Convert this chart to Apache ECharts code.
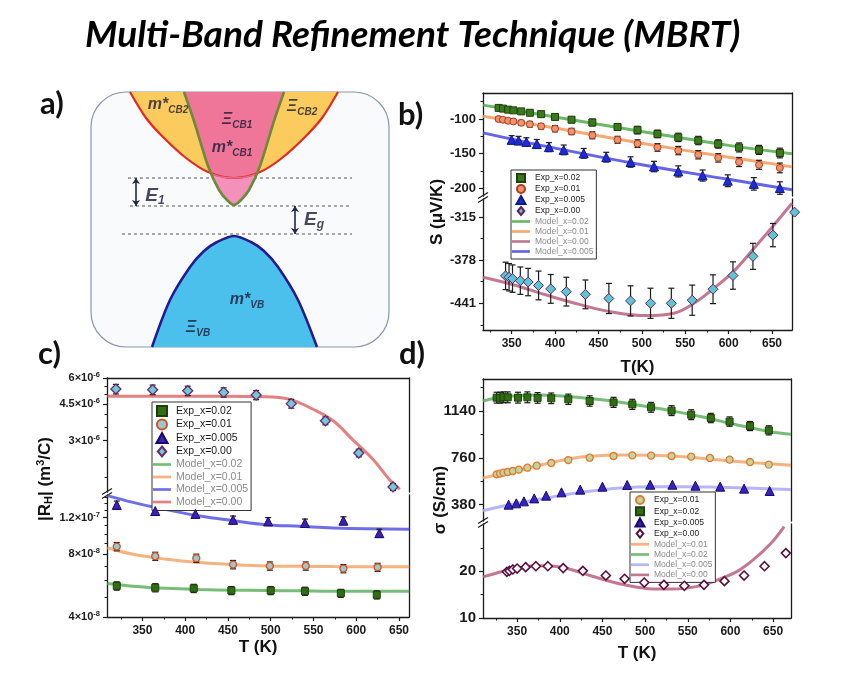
<!DOCTYPE html>
<html>
<head>
<meta charset="utf-8">
<script src="https://cdn.jsdelivr.net/npm/echarts@6/dist/echarts.min.js"></script>
<style>
html, body { margin: 0; padding: 0; background: #fff; }
#chart { width: 856px; height: 676px; }
</style>
</head>
<body>
<div id="chart"></div>
<script>
// ---------- panel a : band sketch (energy vs k, arbitrary units) ----------
var cb1X = [-50, -40, -26, -15, -7, 0, 7, 15, 26, 40, 50];
var cb1Y = [255, 226, 181, 157, 147, 142, 147, 157, 181, 226, 255];
var cb1InX = [-23, -15, -7, 0, 7, 15, 23];
var cb1InY = [174, 157, 147, 142, 147, 157, 174];
var cb2X = [-104, -88, -71, -48, -26, 0, 26, 48, 71, 88, 104];
var cb2Y = [255, 229, 210, 189, 175, 169, 175, 189, 210, 229, 255];
var cb2InX = [-23, -12, 0, 12, 23];
var cb2InY = [173, 170, 169, 170, 173];
var vbX = [-82, -64, -44, -30, -17, 0, 17, 30, 44, 64, 83];
var vbY = [0, 47, 80, 96, 105, 111, 105, 96, 80, 47, 0];
var levelY = [169, 141, 113];
var levelX0 = [-106, -104, -112];
var levelX1 = [118, 118, 118];

// ---------- panel b : Seebeck S (uV/K) ----------
var bT = [335, 340, 346, 352, 361, 371, 384, 400, 419, 443, 472, 495, 518, 542, 565, 588, 612, 635, 659];
var bS02 = [-84, -85, -86.5, -87.5, -89, -91, -93, -97, -101, -105, -111.5, -116, -121.5, -126.5, -131, -136, -141, -144.5, -149];
var bE02 = [3, 3, 3, 3, 3.5, 4, 4, 4.5, 4.5, 5, 5, 5.5, 5.5, 6, 6, 6, 6.5, 6.5, 7];
var bS01 = [-100, -101, -102.5, -103.5, -105.5, -107.5, -110.5, -114, -118, -123.5, -130, -135.5, -141, -145.5, -151.5, -156, -162, -166, -170.5];
var bE01 = [3, 3, 3, 3, 3.5, 4, 4, 4.5, 4.5, 5, 5, 5.5, 5.5, 6, 6, 6, 6.5, 6.5, 7];
var bT005 = [350, 358, 367, 379, 393, 410, 433, 459, 487, 514, 542, 570, 599, 629, 659];
var bS005 = [-130, -131, -133, -136, -140.5, -144.5, -149.5, -155, -162, -168.5, -175.5, -181.5, -189, -193.5, -199.5];
var bE005 = [6, 6, 6, 6.5, 6.5, 7, 7, 7, 7.5, 7.5, 8, 8, 8.5, 9, 9];
var bT000 = [343, 347, 351, 360, 369, 381, 395, 413, 435, 462, 487, 510, 534, 558, 582, 605, 628, 651, 676];
var bS000 = [-401, -403, -405, -408, -410, -415, -420, -424, -428, -434, -437.5, -441, -441, -436.5, -420.5, -400.5, -372.5, -341.5, -308];
var bE000 = [20, 20, 20, 20, 20, 21, 21, 21, 21, 22, 22, 22, 22, 22, 21, 20, 19, 17, 0];
var bMT = [317, 400, 500, 600, 673];
var bM02 = [-80, -97, -118, -138, -150];
var bM01 = [-96, -113, -135, -155, -169];
var bM005 = [-120, -142, -166, -187, -202];
var bM000T = [317, 352, 390, 429, 467, 506, 537, 560, 583, 606, 629, 652, 673];
var bM000 = [-403, -414, -429, -443, -454, -459, -455.5, -441, -419, -394, -361, -327, -295];

// ---------- panel c : Hall coefficient |RH| (m3/C) ----------
var cT000 = [319, 362, 403, 445, 483, 524, 564, 603, 643];
var cR000 = [5.31e-6, 5.27e-6, 5.21e-6, 5.12e-6, 4.97e-6, 4.52e-6, 3.74e-6, 2.62e-6, 1.80e-6];
var cE000 = [2.8e-7, 2.8e-7, 2.7e-7, 2.6e-7, 2.5e-7, 2.2e-7, 1.6e-7, 1.1e-7, 0.7e-7];
var cT005 = [320, 365, 412, 456, 497, 540, 585, 627];
var cR005 = [1.38e-7, 1.29e-7, 1.25e-7, 1.17e-7, 1.15e-7, 1.13e-7, 1.16e-7, 1.01e-7];
var cE005 = [6e-9, 5.5e-9, 5.5e-9, 5e-9, 5e-9, 5e-9, 5e-9, 4.5e-9];
var cT01 = [320, 365, 413, 456, 499, 541, 585, 625];
var cR01 = [8.71e-8, 7.83e-8, 7.66e-8, 7.14e-8, 7.03e-8, 7.03e-8, 6.83e-8, 6.93e-8];
var cE01 = [4e-9, 3.5e-9, 3.5e-9, 3.3e-9, 3.2e-9, 3.2e-9, 3.1e-9, 3.1e-9];
var cT02 = [320, 365, 410, 454, 500, 540, 582, 624];
var cR02 = [5.64e-8, 5.53e-8, 5.49e-8, 5.36e-8, 5.36e-8, 5.32e-8, 5.20e-8, 5.11e-8];
var cE02 = [2.6e-9, 2.5e-9, 2.5e-9, 2.4e-9, 2.4e-9, 2.4e-9, 2.3e-9, 2.3e-9];
var cM000T = [309, 400, 495, 522, 549, 573, 596, 620, 639, 651];
var cM000 = [4.9e-6, 4.9e-6, 4.88e-6, 4.74e-6, 4.26e-6, 3.74e-6, 3.03e-6, 2.43e-6, 1.95e-6, 1.75e-6];
var cMT = [309, 339, 378, 417, 456, 495, 534, 573, 662];
var cM005 = [1.53e-7, 1.42e-7, 1.31e-7, 1.22e-7, 1.16e-7, 1.11e-7, 1.09e-7, 1.07e-7, 1.055e-7];
var cM01 = [8.6e-8, 8.0e-8, 7.57e-8, 7.3e-8, 7.14e-8, 7.03e-8, 7.0e-8, 6.98e-8, 6.96e-8];
var cM02 = [5.79e-8, 5.62e-8, 5.49e-8, 5.42e-8, 5.38e-8, 5.36e-8, 5.34e-8, 5.32e-8, 5.32e-8];

// ---------- panel d : conductivity sigma (S/cm) ----------
var dT01 = [326, 330, 334, 339, 345, 352, 362, 373, 390, 410, 435, 463, 485, 507, 531, 554, 576, 599, 623, 645];
var dS01 = [626, 632, 640, 645, 653, 664, 680, 696, 718, 742, 761, 775, 780, 778, 775, 770, 759, 745, 726, 705];
var dE01 = [14, 14, 14, 14, 14, 14, 14, 14, 14, 14, 14, 14, 14, 14, 14, 14, 14, 14, 14, 14];
var dT02 = [326, 330, 334, 339, 351, 362, 374, 390, 410, 435, 463, 485, 507, 531, 554, 577, 599, 623, 645];
var dS02 = [1248, 1248, 1251, 1251, 1248, 1251, 1246, 1243, 1235, 1221, 1210, 1194, 1170, 1143, 1110, 1083, 1054, 1018, 983];
var dE02 = [44, 44, 44, 44, 44, 44, 43, 43, 42, 42, 41, 41, 40, 40, 40, 38, 38, 37, 37];
var dT005 = [340, 349, 358, 370, 384, 402, 424, 450, 479, 506, 532, 559, 588, 616, 646];
var dS005 = [380, 391, 407, 431, 453, 480, 502, 526, 540, 542, 542, 534, 526, 510, 491];
var dT000 = [338, 341, 345, 350, 360, 372, 386, 404, 427, 454, 476, 499, 522, 546, 569, 593, 616, 640, 665];
var dS000 = [19.9, 20.1, 20.4, 20.6, 20.9, 21.1, 21.1, 20.7, 20.1, 19.1, 18.4, 17.6, 17.1, 16.9, 17.1, 17.9, 19.1, 21.1, 23.9];
var dM02T = [310, 334, 373, 413, 452, 491, 530, 569, 608, 647, 671];
var dM02 = [1221, 1256, 1270, 1256, 1229, 1189, 1143, 1089, 1026, 972, 951];
var dM01T = [310, 334, 354, 373, 393, 412, 432, 471, 510, 549, 588, 627, 671];
var dM01 = [596, 634, 661, 694, 726, 753, 770, 783, 780, 767, 742, 721, 699];
var dM005T = [310, 334, 354, 393, 432, 471, 510, 549, 588, 627, 671];
var dM005 = [331, 369, 396, 445, 486, 515, 526, 526, 521, 513, 504];
var dM000T = [310, 334, 354, 373, 393, 413, 432, 452, 471, 491, 510, 530, 549, 569, 588, 608, 627, 647, 663];
var dM000 = [18.8, 20, 20.8, 21.2, 21.1, 20.4, 19.3, 18.2, 17.3, 16.6, 16.2, 16.2, 16.4, 17.1, 18.4, 20, 22.5, 25.9, 29.6];

// tick labels
var tTicks = [350, 400, 450, 500, 550, 600, 650];
var tMinor = [325, 375, 425, 475, 525, 575, 625, 675];
var bUpTicks = [-200, -150, -100];
var bUpMinor = [-175, -125, -75];
var bLowTicks = [-441, -378, -315];
var bLowMinor = [-472.5, -409.5, -346.5];
var cUpTicks = [3e-6, 4.5e-6, 6e-6];
var cUpMinor = [2e-6, 2.5e-6, 3.5e-6, 4e-6, 5e-6, 5.5e-6];
var cLowTicks = [4e-8, 8e-8, 1.2e-7];
var cLowMinor = [5e-8, 6e-8, 7e-8, 9e-8, 1e-7, 1.1e-7, 1.3e-7, 1.4e-7, 1.5e-7];
var dUpTicks = [380, 760, 1140];
var dUpMinor = [570, 950, 1330];
var dLowTicks = [10, 20];
var dLowMinor = [15, 25];

var FONT = 'Liberation Sans';
var TFONT = 'Lato';
var AX = '#1a1a1a';

// legend icon shapes
var ICON = {
	rect: 'path://M0,0L10,0L10,10L0,10Z',
	circle: 'path://M0,5A5,5,0,1,0,10,5A5,5,0,1,0,0,5Z',
	triangle: 'path://M5,0L10,9L0,9Z',
	diamond: 'path://M5,0L10,6L5,12L0,6Z',
	line: 'path://M0,0L20,0L20,3L0,3Z'
};

var xAxes = [];
var yAxes = [];
var series = [];
var iconOf = {};

function zip(xs, ys, es) {
	var out = [];
	for (var i = 0; i < xs.length; i++) {
		out.push(es ? [xs[i], ys[i], es[i]] : [xs[i], ys[i]]);
	}
	return out;
}

function bareAxis(g, type, min, max, pos) {
	return {
		gridIndex: g, type: type, min: min, max: max, position: pos,
		splitLine: {show: false}, splitArea: {show: false},
		axisLine: {show: true, onZero: false, lineStyle: {color: AX, width: 1.3}},
		axisTick: {show: false},
		axisLabel: {show: false}
	};
}

function minorAxis(g, type, min, max, pos, vals) {
	var a = bareAxis(g, type, min, max, pos);
	a.axisLine = {show: false, onZero: false};
	a.axisTick = {show: true, length: 2.5, customValues: vals, lineStyle: {color: AX, width: 1}};
	return a;
}

// x axis with labels (bottom) or plain line (top)
function addX(g, min, max, pos, ticks, minors, fs) {
	var a = bareAxis(g, 'value', min, max, pos);
	if (ticks) {
		a.axisTick = {show: true, length: 4, customValues: ticks, lineStyle: {color: AX, width: 1.2}};
		a.axisLabel = {show: true, customValues: ticks, margin: 8, color: '#1a1a1a',
			fontFamily: FONT, fontWeight: 'bold', fontSize: fs, formatter: function(v) { return String(v); }};
	}
	xAxes.push(a);
	var idx = xAxes.length - 1;
	if (minors) xAxes.push(minorAxis(g, 'value', min, max, pos, minors));
	return idx;
}

function addY(g, type, min, max, ticks, minors, fs, fmt, rich) {
	var a = bareAxis(g, type, min, max, 'left');
	if (type == 'log') a.logBase = 10;
	a.axisTick = {show: true, length: 4, customValues: ticks, lineStyle: {color: AX, width: 1.2}};
	a.axisLabel = {show: true, customValues: ticks, margin: 7, color: '#1a1a1a',
		fontFamily: FONT, fontWeight: 'bold', fontSize: fs,
		formatter: fmt || function(v) { return String(v); }};
	if (rich) a.axisLabel.rich = rich;
	yAxes.push(a);
	var idx = yAxes.length - 1;
	if (minors) {
		var m = minorAxis(g, type, min, max, 'left', minors);
		if (type == 'log') m.logBase = 10;
		yAxes.push(m);
	}
	// right frame
	yAxes.push(bareAxis(g, 'value', 0, 1, 'right'));
	return idx;
}

function addLine(name, xi, yi, xs, ys, color, width, opacity) {
	iconOf[name] = ICON.line;
	series.push({
		name: name, type: 'line', xAxisIndex: xi, yAxisIndex: yi,
		data: zip(xs, ys), smooth: 0.4, symbol: 'none', z: 2,
		lineStyle: {color: color, width: width, opacity: opacity},
		itemStyle: {color: color, opacity: opacity}
	});
}

function addDots(name, xi, yi, xs, ys, symbol, size, fill, border, bw) {
	iconOf[name] = ICON[symbol];
	series.push({
		name: name, type: 'scatter', xAxisIndex: xi, yAxisIndex: yi,
		data: zip(xs, ys), symbol: symbol, symbolSize: size, z: 4, clip: false,
		itemStyle: {color: fill, borderColor: border, borderWidth: bw || 1, opacity: 1}
	});
}

function errRender(params, api) {
	var x = api.value(0), y = api.value(1), e = api.value(2);
	if (!e) return;
	var p1 = api.coord([x, y + e]);
	var p2 = api.coord([x, y - e]);
	var w = 3;
	var st = {stroke: '#1a1a1a', lineWidth: 1.2};
	return {
		type: 'group',
		children: [
			{type: 'line', shape: {x1: p1[0], y1: p1[1], x2: p2[0], y2: p2[1]}, style: st},
			{type: 'line', shape: {x1: p1[0] - w, y1: p1[1], x2: p1[0] + w, y2: p1[1]}, style: st},
			{type: 'line', shape: {x1: p2[0] - w, y1: p2[1], x2: p2[0] + w, y2: p2[1]}, style: st}
		]
	};
}

function addErr(xi, yi, xs, ys, es) {
	series.push({
		type: 'custom', xAxisIndex: xi, yAxisIndex: yi, z: 3, silent: true,
		renderItem: errRender, encode: {x: 0, y: 1},
		data: zip(xs, ys, es)
	});
}

// ---------- grids ----------
var grids = [
	{left: 91, top: 92, width: 298, height: 255},
	{left: 483, top: 93, width: 309, height: 103},
	{left: 483, top: 199, width: 309, height: 131},
	{left: 107, top: 378, width: 302, height: 114},
	{left: 107, top: 495, width: 302, height: 122},
	{left: 483, top: 379, width: 308, height: 142},
	{left: 483, top: 524, width: 308, height: 94}
];

// panel a axes (hidden)
xAxes.push({gridIndex: 0, type: 'value', min: -143, max: 155, show: false});
yAxes.push({gridIndex: 0, type: 'value', min: 0, max: 255, show: false});

// panel b axes
var bxU = addX(1, 317, 673, 'top');
var byU = addY(1, 'value', -211, -62.5, bUpTicks, bUpMinor, 13);
var bxL = addX(2, 317, 673, 'bottom', tTicks, tMinor, 12);
var byL = addY(2, 'value', -480, -288.8, bLowTicks, bLowMinor, 13);
xAxes[bxL].name = 'T(K)';

// panel c axes (log)
var sciFmt = function(v) {
	var e = Math.floor(Math.log(v) / Math.LN10 + 1e-9);
	var m = Math.round(v / Math.pow(10, e) * 10) / 10;
	return '{m|' + m + '×10}{e|' + e + '}';
};
var sciRich = {
	m: {fontSize: 11, fontWeight: 'bold', fontFamily: FONT, color: '#1a1a1a'},
	e: {fontSize: 7.5, fontWeight: 'bold', fontFamily: FONT, color: '#1a1a1a', verticalAlign: 'top', padding: [0, 0, 6, 0]}
};
var cxU = addX(3, 308.6, 661.7, 'top');
var cyU = addY(3, 'log', 1.702e-6, 6e-6, cUpTicks, cUpMinor, 11, sciFmt, sciRich);
var cxL = addX(4, 308.6, 661.7, 'bottom', tTicks, tMinor, 12);
var cyL = addY(4, 'log', 4e-8, 1.54e-7, cLowTicks, cLowMinor, 11, sciFmt, sciRich);
xAxes[cxL].name = 'T (K)';

// panel d axes
var dxU = addX(5, 310, 671, 'top');
var dyU = addY(5, 'value', 247.5, 1399.6, dUpTicks, dUpMinor, 15);
var dxL = addX(6, 310, 671, 'bottom', tTicks, tMinor, 12);
var dyL = addY(6, 'value', 10, 30.14, dLowTicks, dLowMinor, 15);
xAxes[dxL].name = 'T (K)';

[[bxL, 29], [cxL, 22], [dxL, 27]].forEach(function(p) {
	var a = xAxes[p[0]];
	a.nameLocation = 'middle';
	a.nameGap = p[1];
	a.nameTextStyle = {fontFamily: FONT, fontWeight: 'bold', fontSize: 17, color: '#111', verticalAlign: 'top'};
});

// ---------- panel a series ----------
series.push({type: 'line', xAxisIndex: 0, yAxisIndex: 0, data: zip(cb2X, cb2Y), smooth: 0.3, symbol: 'none', z: 2,
	lineStyle: {color: '#e52a1f', width: 2.2}, areaStyle: {origin: 'end', color: '#fccb5e', opacity: 1}});
series.push({type: 'line', xAxisIndex: 0, yAxisIndex: 0, data: zip(cb1X, cb1Y), smooth: 0.3, symbol: 'none', z: 2,
	lineStyle: {width: 0, opacity: 0}, areaStyle: {origin: 'end', color: '#ef7698', opacity: 1}});
series.push({type: 'line', xAxisIndex: 0, yAxisIndex: 0, data: zip(cb1InX, cb1InY), smooth: 0.3, symbol: 'none', z: 2,
	lineStyle: {width: 0, opacity: 0}, areaStyle: {origin: 'end', color: '#f391bb', opacity: 1}});
series.push({type: 'line', xAxisIndex: 0, yAxisIndex: 0, data: zip(cb2InX, cb2InY), smooth: 0.3, symbol: 'none', z: 2,
	lineStyle: {color: '#e8688e', width: 1.5}, areaStyle: {origin: 'end', color: '#ef7698', opacity: 1}});
series.push({type: 'line', xAxisIndex: 0, yAxisIndex: 0, data: zip(cb1X, cb1Y), smooth: 0.3, symbol: 'none', z: 2,
	lineStyle: {color: '#6b8a3a', width: 2.6}});
series.push({type: 'line', xAxisIndex: 0, yAxisIndex: 0, data: zip(vbX, vbY), smooth: 0.3, symbol: 'none', z: 2,
	lineStyle: {color: '#231c8f', width: 2.6}, areaStyle: {origin: 'start', color: '#4cc0ec', opacity: 1}});
levelY.forEach(function(y, i) {
	series.push({type: 'line', xAxisIndex: 0, yAxisIndex: 0, data: [[levelX0[i], y], [levelX1[i], y]],
		symbol: 'none', z: 1, lineStyle: {color: '#555', width: 1, type: [3, 3]}});
});
series.push({
	type: 'lines', coordinateSystem: 'cartesian2d', xAxisIndex: 0, yAxisIndex: 0, z: 3,
	symbol: ['arrow', 'arrow'], symbolSize: 6,
	lineStyle: {color: '#1f2a4a', width: 1.6, opacity: 1},
	data: [
		{coords: [[-98, levelY[0]], [-98, levelY[1]]]},
		{coords: [[61, levelY[1]], [61, levelY[2]]]}
	]
});
var lblM = {fontSize: 16, fontWeight: 'bold', fontStyle: 'italic', fontFamily: FONT, color: '#1c1c34', lineHeight: 20};
var lblS = {fontSize: 10, fontWeight: 'bold', fontStyle: 'italic', fontFamily: FONT, color: '#1c1c34', lineHeight: 20, verticalAlign: 'bottom', padding: [9, 0, 0, 0]};
var lblE = {fontSize: 19, fontWeight: 'bold', fontStyle: 'italic', fontFamily: FONT, color: '#1c1c34', lineHeight: 22};
var lblES = {fontSize: 12, fontWeight: 'bold', fontStyle: 'italic', fontFamily: FONT, color: '#1c1c34', lineHeight: 22, verticalAlign: 'bottom', padding: [10, 0, 0, 0]};
function sketchLabel(x, y, text) {
	return {value: [x, y], label: {show: true, position: 'inside', formatter: text,
		rich: {m: lblM, s: lblS, e: lblE, es: lblES}}};
}
series.push({
	type: 'scatter', xAxisIndex: 0, yAxisIndex: 0, symbolSize: 1, z: 5, silent: true,
	itemStyle: {color: 'rgba(0,0,0,0)'},
	label: {show: true, position: 'inside', color: '#1c1c34'},
	data: [
		sketchLabel(-66, 242, '{m|m*}{s|CB2}'),
		sketchLabel(3, 227, '{m|Ξ}{s|CB1}'),
		sketchLabel(-2, 199, '{m|m*}{s|CB1}'),
		sketchLabel(68, 240, '{m|Ξ}{s|CB2}'),
		sketchLabel(13, 47, '{m|m*}{s|VB}'),
		sketchLabel(-36, 19, '{m|Ξ}{s|VB}'),
		sketchLabel(-79, 151, '{e|E}{es|1}'),
		sketchLabel(80, 127, '{e|E}{es|g}')
	]
});

// ---------- panel b series ----------
addLine('b#Model_x=0.02', bxU, byU, bMT, bM02, '#52ab4e', 3, 0.85);
addLine('b#Model_x=0.01', bxU, byU, bMT, bM01, '#f59a5c', 3, 0.85);
addLine('b#Model_x=0.005', bxU, byU, bMT, bM005, '#4a48e2', 3, 0.85);
addLine('b#Model_x=0.00', bxL, byL, bM000T, bM000, '#b8607f', 3, 0.85);
addErr(bxU, byU, bT, bS02, bE02);
addErr(bxU, byU, bT, bS01, bE01);
addErr(bxU, byU, bT005, bS005, bE005);
addErr(bxL, byL, bT000, bS000, bE000);
addDots('b#Exp_x=0.02', bxU, byU, bT, bS02, 'rect', 7, '#3b7a1c', '#22400e');
addDots('b#Exp_x=0.01', bxU, byU, bT, bS01, 'circle', 7, '#e9956e', '#b23a1e');
addDots('b#Exp_x=0.005', bxU, byU, bT005, bS005, 'triangle', 9, '#1f2bd6', '#111a80');
addDots('b#Exp_x=0.00', bxL, byL, bT000, bS000, 'diamond', 10, '#5cc6d6', '#6a1f5c');

// ---------- panel c series ----------
addLine('c#Model_x=0.00', cxU, cyU, cM000T, cM000, '#e06a6a', 3, 0.85);
addLine('c#Model_x=0.005', cxL, cyL, cMT, cM005, '#5656e0', 3, 0.85);
addLine('c#Model_x=0.01', cxL, cyL, cMT, cM01, '#f5a468', 3, 0.85);
addLine('c#Model_x=0.02', cxL, cyL, cMT, cM02, '#5fb05f', 3, 0.85);
addErr(cxU, cyU, cT000, cR000, cE000);
addErr(cxL, cyL, cT005, cR005, cE005);
addErr(cxL, cyL, cT01, cR01, cE01);
addErr(cxL, cyL, cT02, cR02, cE02);
addDots('c#Exp_x=0.02', cxL, cyL, cT02, cR02, 'rect', 7, '#2f6e12', '#1d400a');
addDots('c#Exp_x=0.01', cxL, cyL, cT01, cR01, 'circle', 7, '#9cc8cc', '#d0502a', 1.3);
addDots('c#Exp_x=0.005', cxL, cyL, cT005, cR005, 'triangle', 9, '#3a1fb8', '#1a0a60');
addDots('c#Exp_x=0.00', cxU, cyU, cT000, cR000, 'diamond', 10, '#72c9d8', '#6a2a70', 1.3);

// ---------- panel d series ----------
addLine('d#Model_x=0.01', dxU, dyU, dM01T, dM01, '#f5a468', 3, 0.85);
addLine('d#Model_x=0.02', dxU, dyU, dM02T, dM02, '#5fb05f', 3, 0.85);
addLine('d#Model_x=0.005', dxU, dyU, dM005T, dM005, '#a9a9f2', 3, 0.85);
addLine('d#Model_x=0.00', dxL, dyL, dM000T, dM000, '#b8607f', 3, 0.85);
addErr(dxU, dyU, dT02, dS02, dE02);
addErr(dxU, dyU, dT01, dS01, dE01);
addDots('d#Exp_x=0.01', dxU, dyU, dT01, dS01, 'circle', 7, '#c4d49c', '#e07a30', 1.3);
addDots('d#Exp_x=0.02', dxU, dyU, dT02, dS02, 'rect', 7, '#2f6e12', '#1d400a');
addDots('d#Exp_x=0.005', dxU, dyU, dT005, dS005, 'triangle', 9, '#3323c4', '#1a0a60');
addDots('d#Exp_x=0.00', dxL, dyL, dT000, dS000, 'diamond', 9, '#ffffff', '#5a1040', 1.6);

// ---------- legends ----------
function legendItems(p, names) {
	return names.map(function(n) {
		var full = p + '#' + n;
		return {name: full, icon: iconOf[full],
			textStyle: {color: n.indexOf('Model') == 0 ? '#8a8a8a' : '#1a1a1a'}};
	});
}
function makeLegend(left, top, fs, gap, ih, names) {
	return {
		left: left, top: top, orient: 'vertical', selectedMode: false, symbolKeepAspect: true,
		itemWidth: 18, itemHeight: ih, itemGap: gap, padding: [3, 3, 3, 1],
		borderColor: '#333', borderWidth: 1, backgroundColor: '#fff',
		textStyle: {fontSize: fs, fontFamily: FONT, color: '#1a1a1a', lineHeight: ih + 1},
		formatter: function(name) { return name.split('#')[1]; },
		data: names
	};
}
var legends = [
	makeLegend(511, 170, 8.5, 1, 8, legendItems('b', ['Exp_x=0.02', 'Exp_x=0.01', 'Exp_x=0.005', 'Exp_x=0.00', 'Model_x=0.02', 'Model_x=0.01', 'Model_x=0.00', 'Model_x=0.005'])),
	makeLegend(152, 402, 10.5, 1.5, 10, legendItems('c', ['Exp_x=0.02', 'Exp_x=0.01', 'Exp_x=0.005', 'Exp_x=0.00', 'Model_x=0.02', 'Model_x=0.01', 'Model_x=0.005', 'Model_x=0.00'])),
	makeLegend(630, 492, 8.5, 1.2, 8, legendItems('d', ['Exp_x=0.01', 'Exp_x=0.02', 'Exp_x=0.005', 'Exp_x=0.00', 'Model_x=0.01', 'Model_x=0.02', 'Model_x=0.005', 'Model_x=0.00']))
];

// ---------- decorations ----------
function breakMark(x, y) {
	var st = {stroke: '#1a1a1a', lineWidth: 1.2};
	return {type: 'group', z: 10, children: [
		{type: 'rect', shape: {x: x - 6, y: y - 3, width: 12, height: 6}, style: {fill: '#fff'}},
		{type: 'line', shape: {x1: x - 5, y1: y + 1, x2: x + 5, y2: y - 5}, style: st},
		{type: 'line', shape: {x1: x - 5, y1: y + 5, x2: x + 5, y2: y - 1}, style: st}
	]};
}
function panelLabel(x, y, t) {
	return {type: 'text', x: x, y: y, z: 10, style: {text: t, fontSize: 31, fontWeight: 'bold',
		fontFamily: TFONT, fill: '#111'}};
}
function yTitle(x, y, t, rich) {
	return {type: 'text', x: x, y: y, rotation: Math.PI / 2, z: 10, style: {text: t, fontSize: 17,
		fontWeight: 'bold', fontFamily: FONT, fill: '#111', align: 'center', verticalAlign: 'middle', rich: rich}};
}
var graphics = [
	{type: 'rect', z: 0, shape: {x: 91, y: 92, width: 298, height: 255, r: 35},
		style: {fill: '#f9fafc', stroke: '#8896b3', lineWidth: 1.2}},
	panelLabel(40, 88, 'a)'),
	panelLabel(398, 99, 'b)'),
	panelLabel(38, 338, 'c)'),
	panelLabel(399, 338, 'd)'),
	yTitle(437, 212, 'S (μV/K)'),
	yTitle(45, 479, '|R{sub|H}| (m{sup|3}/C)', {
		sub: {fontSize: 11, fontWeight: 'bold', fontFamily: FONT, fill: '#111', verticalAlign: 'bottom', padding: [8, 0, 0, 0]},
		sup: {fontSize: 11, fontWeight: 'bold', fontFamily: FONT, fill: '#111', verticalAlign: 'top', padding: [0, 0, 8, 0]}
	}),
	yTitle(440, 500, 'σ (S/cm)'),
	breakMark(483, 197.5),
	breakMark(107, 493.5),
	breakMark(483, 522.5)
];

var myChart = echarts.init(document.getElementById('chart'), null, {renderer: 'canvas'});
myChart.setOption({
	animation: false,
	backgroundColor: '#fff',
	title: {
		text: 'Multi-Band Refinement Technique (MBRT)',
		left: 80, top: 12,
		textStyle: {fontSize: 37, fontWeight: 'bold', fontStyle: 'italic', fontFamily: TFONT, color: '#000'}
	},
	grid: grids,
	xAxis: xAxes,
	yAxis: yAxes,
	legend: legends,
	graphic: graphics,
	series: series
});
</script>
</body>
</html>
